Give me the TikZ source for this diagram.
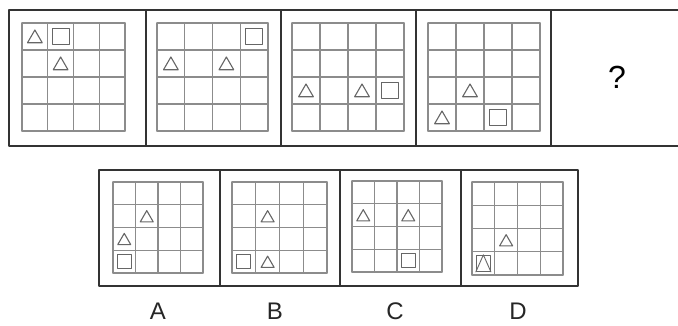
\documentclass[tikz,border=0pt]{standalone}
\usepackage{fontspec}
\setmainfont{Liberation Sans}
\usetikzlibrary{shapes.geometric}

% 4x4 grid in the local cell units of a panel scope
\newcommand{\puzgrid}{%
  \foreach \i in {0,...,4} {
    \draw[gridline] (\i,0) -- (\i,4);
    \draw[gridline] (0,\i) -- (4,\i);
  }%
}

\begin{document}
\begin{tikzpicture}[x=1pt, y=-1pt, line cap=round, line join=round,
    frame/.style={draw=black!80, line width=1.6pt},
    gridline/.style={draw=black!45, line width=1.2pt},
    tri/.style={regular polygon, regular polygon sides=3, draw=black!60,
      line width=1.1pt, minimum size=17pt, inner sep=0pt, yshift=-2pt},
    sq/.style={rectangle, draw=black!60, line width=1.1pt,
      minimum width=17pt, minimum height=16pt, inner sep=0pt},
    lbl/.style={font=\fontsize{24}{24}\selectfont, text=black!85}]
  \useasboundingbox (0,0) rectangle (678,325);

  % Top row of panels (right edge runs off the picture)
  \draw[frame] (678,10) -- (9,10) -- (9,146) -- (678,146);
  \foreach \x in {146,281,416,551}
    \draw[frame] (\x,10) -- (\x,146);

  % Panel 1
  \begin{scope}[shift={(22,23)}, x=25.75pt, y=-27pt]
    \puzgrid
    \node[tri] (p1ta) at (0.5,0.5) {};
    \node[sq]  (p1s)  at (1.5,0.5) {};
    \node[tri] (p1tb) at (1.5,1.5) {};
  \end{scope}

  % Panel 2
  \begin{scope}[shift={(157,23)}, x=27.75pt, y=-27pt]
    \puzgrid
    \node[sq]  (p2s)  at (3.5,0.5) {};
    \node[tri] (p2ta) at (0.5,1.5) {};
    \node[tri] (p2tb) at (2.5,1.5) {};
  \end{scope}

  % Panel 3
  \begin{scope}[shift={(292,23)}, x=28pt, y=-27pt]
    \puzgrid
    \node[tri] (p3ta) at (0.5,2.5) {};
    \node[tri] (p3tb) at (2.5,2.5) {};
    \node[sq]  (p3s)  at (3.5,2.5) {};
  \end{scope}

  % Panel 4
  \begin{scope}[shift={(428,23)}, x=28pt, y=-27pt]
    \puzgrid
    \node[tri] (p4ta) at (1.5,2.5) {};
    \node[tri] (p4tb) at (0.5,3.5) {};
    \node[sq]  (p4s)  at (2.5,3.5) {};
  \end{scope}

  % Missing panel
  \node[font=\fontsize{32}{32}\selectfont, text=black] (qm) at (617,77) {?};

  % Bottom row of choices
  \draw[frame] (99,170) rectangle (578,286);
  \foreach \x in {220,340,461}
    \draw[frame] (\x,170) -- (\x,286);

  % Choice A
  \begin{scope}[shift={(113,182)}, x=22.5pt, y=-22.75pt]
    \puzgrid
    \node[tri, minimum size=15pt] (ata) at (1.5,1.5) {};
    \node[tri, minimum size=15pt] (atb) at (0.5,2.5) {};
    \node[sq, minimum size=14pt]  (as)  at (0.5,3.5) {};
  \end{scope}

  % Choice B
  \begin{scope}[shift={(232,182)}, x=23.75pt, y=-22.75pt]
    \puzgrid
    \node[tri, minimum size=15pt] (bta) at (1.5,1.5) {};
    \node[sq, minimum size=14pt]  (bs)  at (0.5,3.5) {};
    \node[tri, minimum size=15pt] (btb) at (1.5,3.5) {};
  \end{scope}

  % Choice C
  \begin{scope}[shift={(352,181)}, x=22.5pt, y=-22.75pt]
    \puzgrid
    \node[tri, minimum size=15pt] (cta) at (0.5,1.5) {};
    \node[tri, minimum size=15pt] (ctb) at (2.5,1.5) {};
    \node[sq, minimum size=14pt]  (cs)  at (2.5,3.5) {};
  \end{scope}

  % Choice D
  \begin{scope}[shift={(472,182)}, x=22.75pt, y=-23.25pt]
    \puzgrid
    \node[tri, minimum size=15pt] (dta) at (1.5,2.5) {};
    \node[sq, minimum width=14pt, minimum height=16pt] (ds) at (0.5,3.5) {};
    % triangle set inside the square
    \draw[draw=black!60, line width=0.9pt] (ds.south west) -- (ds.north) -- (ds.south east);
  \end{scope}

  % Choice letters
  \node[lbl] (la) at (158,311) {A};
  \node[lbl] (lb) at (275,311) {B};
  \node[lbl] (lc) at (395,311) {C};
  \node[lbl] (ld) at (518,311) {D};
\end{tikzpicture}
\end{document}
